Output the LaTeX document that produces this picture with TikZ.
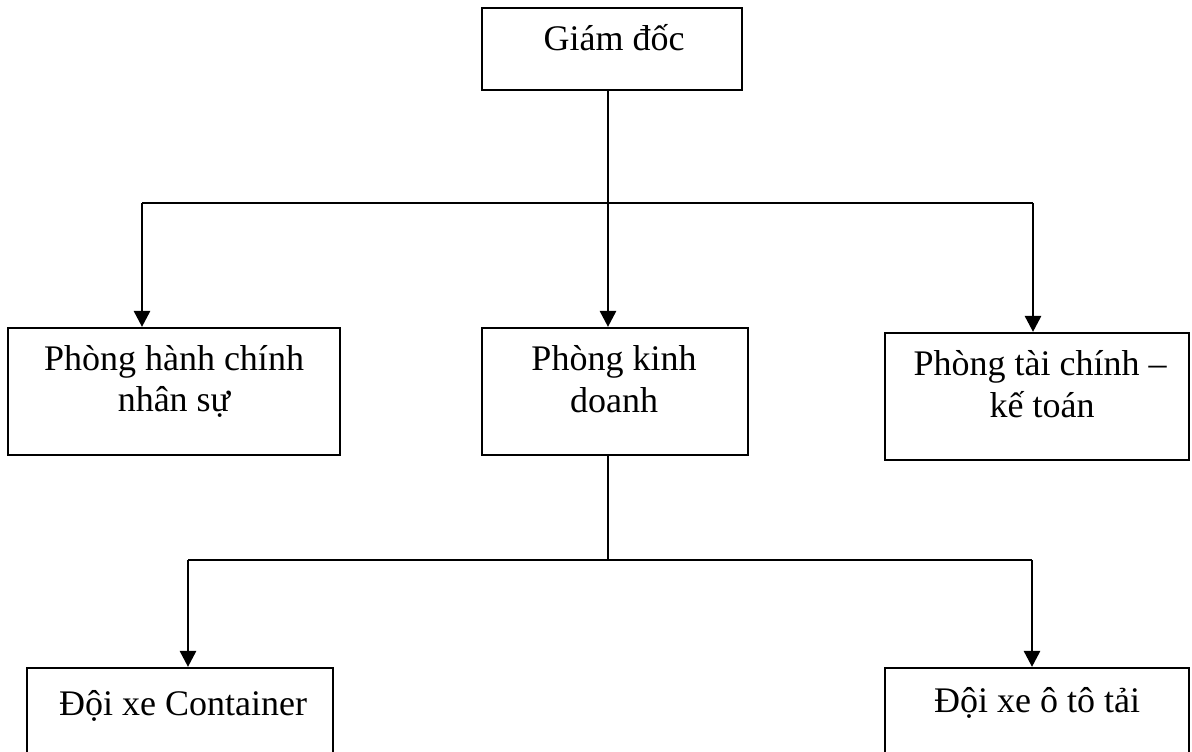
\documentclass[tikz,border=0pt]{standalone}
\usepackage{fontspec}
\setmainfont{Liberation Serif}
\usetikzlibrary{arrows.meta}
\tikzset{
  unitbox/.style={draw=black, line width=1.1pt, rectangle, inner sep=0pt},
  lbl/.style={anchor=base, font=\fontsize{18}{20.5}\selectfont, inner sep=0pt},
  link/.style={line width=1.4pt},
  arr/.style={link, -{Triangle[length=8pt,width=8pt]}}
}
\begin{document}
\begin{tikzpicture}[x=0.5pt, y=-0.5pt]
  \useasboundingbox (0,0) rectangle (1192,751);
  \fill[white] (0,0) rectangle (1192,751);
  \clip (0,0) rectangle (1192,751);

  % boxes, positioned in pixel units (sizes in pt = half a pixel)
  \node[unitbox, minimum width=130pt, minimum height=41pt] (gd) at (612,49) {};
  \node[unitbox, minimum width=166pt, minimum height=63.5pt] (hc) at (174,391.5) {};
  \node[unitbox, minimum width=133pt, minimum height=63.5pt] (kd) at (615,391.5) {};
  \node[unitbox, minimum width=152pt, minimum height=63.5pt] (tc) at (1037,396.5) {};
  \node[unitbox, minimum width=153pt, minimum height=60pt] (ct) at (180,728) {};
  \node[unitbox, minimum width=152pt, minimum height=60pt] (ot) at (1037,728) {};

  % labels
  \node[lbl] (tgd) at (614,50) {Giám đốc};
  \node[lbl] (thc1) at (174,370) {Phòng hành chính};
  \node[lbl] (thc2) at (174,411) {nhân sự};
  \node[lbl] (tkd1) at (614,370) {Phòng kinh};
  \node[lbl] (tkd2) at (614,412) {doanh};
  \node[lbl] (ttc1) at (1040,375) {Phòng tài chính –};
  \node[lbl] (ttc2) at (1042,417) {kế toán};
  \node[lbl] (tct) at (183,715) {Đội xe Container};
  \node[lbl] (tot) at (1037,712) {Đội xe ô tô tải};

  % junction points
  \coordinate (jm) at (608,203);
  \coordinate (jl) at (142,203);
  \coordinate (jr) at (1033,203);
  \coordinate (km) at (608,560);
  \coordinate (kl) at (188,560);
  \coordinate (kr) at (1032,560);

  % upper level
  \draw[arr] (gd.south -| jm) -- (kd.north -| jm);
  \draw[link] (jl) -- (jr);
  \draw[arr] (jl) -- (hc.north -| jl);
  \draw[arr] (jr) -- (tc.north -| jr);

  % lower level
  \draw[link] (kd.south -| km) -- (km);
  \draw[link] (kl) -- (kr);
  \draw[arr] (kl) -- (ct.north -| kl);
  \draw[arr] (kr) -- (ot.north -| kr);
\end{tikzpicture}
\end{document}
